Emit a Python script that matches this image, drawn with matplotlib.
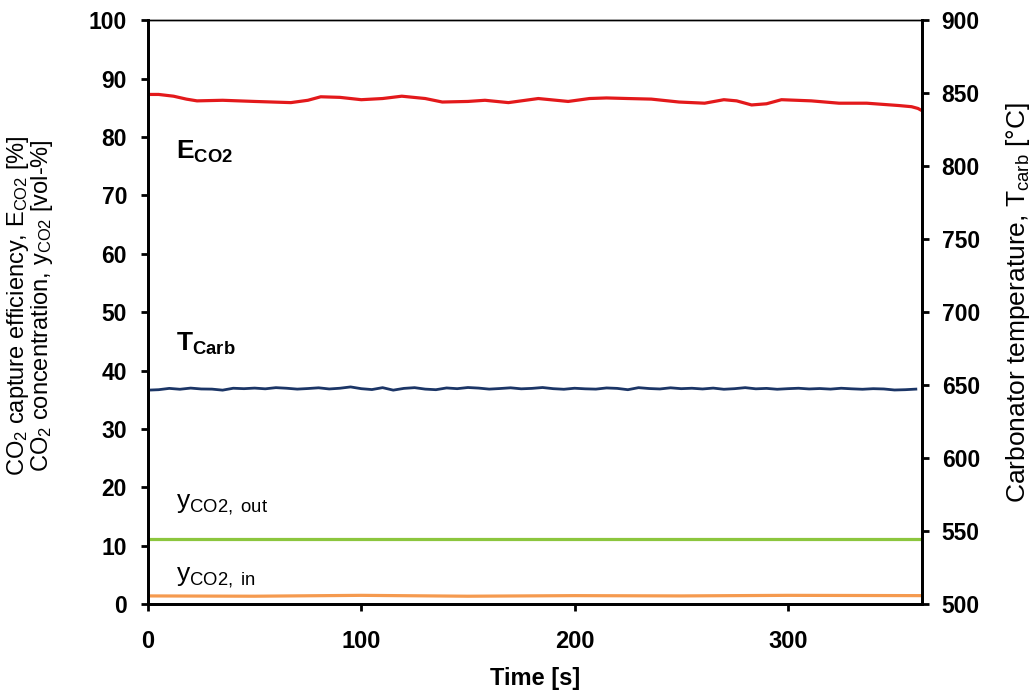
import matplotlib
matplotlib.use("Agg")
import matplotlib.pyplot as plt
from matplotlib import font_manager

# Step 1: values
t_eff = [0, 5, 12, 18, 23, 35, 50, 67, 75, 81, 90, 100, 110, 119, 130, 138, 150, 158, 169,
         183, 197, 207, 215, 225, 236, 249, 261, 270, 276, 283, 290, 297, 311, 324, 337,
         352, 358, 361, 363]
e_co2 = [87.3, 87.3, 87.0, 86.5, 86.2, 86.3, 86.1, 85.9, 86.3, 86.9, 86.8, 86.4, 86.6, 87.0,
         86.6, 86.0, 86.1, 86.3, 85.9, 86.6, 86.1, 86.6, 86.7, 86.6, 86.5, 86.0, 85.8, 86.4,
         86.2, 85.5, 85.7, 86.4, 86.2, 85.8, 85.8, 85.4, 85.2, 84.9, 84.5]

t_temp = list(range(0, 365, 5))
t_carb = [646.6, 646.9, 647.8, 647.2, 648.0, 647.4, 647.3, 646.6, 647.9, 647.6, 648.0, 647.5,
          648.3, 647.9, 647.3, 647.7, 648.2, 647.4, 647.9, 648.8, 647.6, 647.0, 648.3, 646.6,
          647.8, 648.3, 647.3, 646.9, 648.1, 647.6, 648.4, 648.0, 647.3, 647.7, 648.2, 647.5,
          647.8, 648.4, 647.6, 647.2, 647.9, 647.5, 647.3, 648.1, 647.8, 646.9, 648.3, 647.7,
          647.4, 648.2, 647.6, 647.9, 647.4, 648.0, 647.2, 647.6, 648.3, 647.5, 647.8, 647.2,
          647.6, 647.9, 647.4, 647.7, 647.3, 647.9, 647.5, 647.2, 647.6, 647.4, 646.7, 646.9,
          647.3]

t_gas = [0, 50, 100, 150, 200, 250, 300, 363]
y_out = [11.1, 11.1, 11.1, 11.1, 11.1, 11.1, 11.1, 11.1]
y_in = [1.4, 1.35, 1.5, 1.35, 1.45, 1.4, 1.5, 1.45]

left_ticks = [0, 10, 20, 30, 40, 50, 60, 70, 80, 90, 100]
right_ticks = [500, 550, 600, 650, 700, 750, 800, 850, 900]
x_ticks = [0, 100, 200, 300]

# Step 2: fonts
installed = {f.name for f in font_manager.fontManager.ttflist}
narrow = "Liberation Sans Narrow" if "Liberation Sans Narrow" in installed else "Liberation Sans"
plt.rcParams['font.family'] = ['Liberation Sans', 'DejaVu Sans']
plt.rcParams['mathtext.fontset'] = 'custom'
plt.rcParams['mathtext.rm'] = 'Liberation Sans'
plt.rcParams['mathtext.it'] = 'Liberation Sans'
plt.rcParams['mathtext.bf'] = 'Liberation Sans:bold'


def main():
    fig = plt.figure(figsize=(10.31, 7.0), dpi=100)
    ax = fig.add_axes([0.1435, 0.137, 0.751, 0.834])
    ax2 = ax.twinx()

    ax.plot(t_eff, e_co2, color='#e3191b', lw=2.3)
    ax.plot(t_gas, y_out, color='#8cc63e', lw=2.3)
    ax.plot(t_gas, y_in, color='#f59a4f', lw=2.3)
    ax2.plot(t_temp, t_carb, color='#1b3566', lw=2.0)

    ax.set_xlim(0, 363)
    ax.set_ylim(0, 100)
    ax2.set_ylim(500, 900)
    ax.set_yticks(left_ticks)
    ax2.set_yticks(right_ticks)
    ax.set_xticks(x_ticks)

    for a in (ax, ax2):
        for s in a.spines.values():
            s.set_linewidth(2.0)
        a.spines['top'].set_linewidth(1.0)
        a.tick_params(width=2.0, length=5, direction='out')
    ax.tick_params(axis='y', labelsize=16.5, pad=10)
    ax2.tick_params(axis='y', labelsize=16.5, pad=9)
    ax.tick_params(axis='x', labelsize=17, pad=14)
    for lab in ax.get_yticklabels() + ax2.get_yticklabels():
        lab.set_fontweight('bold')
    for lab in ax.get_xticklabels():
        lab.set_fontweight('bold')
        lab.set_family([narrow, 'DejaVu Sans'])

    ax.set_xlabel('Time [s]', fontsize=17, fontweight='bold', family=[narrow, 'DejaVu Sans'],
                  labelpad=10)
    ax.set_ylabel('CO$_2$ capture efficiency, E$_{\\mathrm{CO2}}$ [%]\n'
                  'CO$_2$ concentration, y$_{\\mathrm{CO2}}$ [vol-%]',
                  fontsize=17, linespacing=0.9)
    ax.yaxis.set_label_coords(-0.12, 0.512)
    ax2.set_ylabel('Carbonator temperature, T$_{\\mathrm{carb}}$ [°C]', fontsize=19)
    ax2.yaxis.set_label_coords(1.105, 0.517)

    ax.text(13, 77.5, r'$\mathbf{E_{CO2}}$', fontsize=19, va='center')
    ax.text(13, 44.5, r'$\mathbf{T_{Carb}}$', fontsize=19, va='center')
    ax.text(13, 17, r'y$_{\mathrm{CO2,\ out}}$', fontsize=19, va='center')
    ax.text(13, 4.5, r'y$_{\mathrm{CO2,\ in}}$', fontsize=19, va='center')

    fig.savefig('out.png', dpi=100)


if __name__ == "__main__":
    main()
